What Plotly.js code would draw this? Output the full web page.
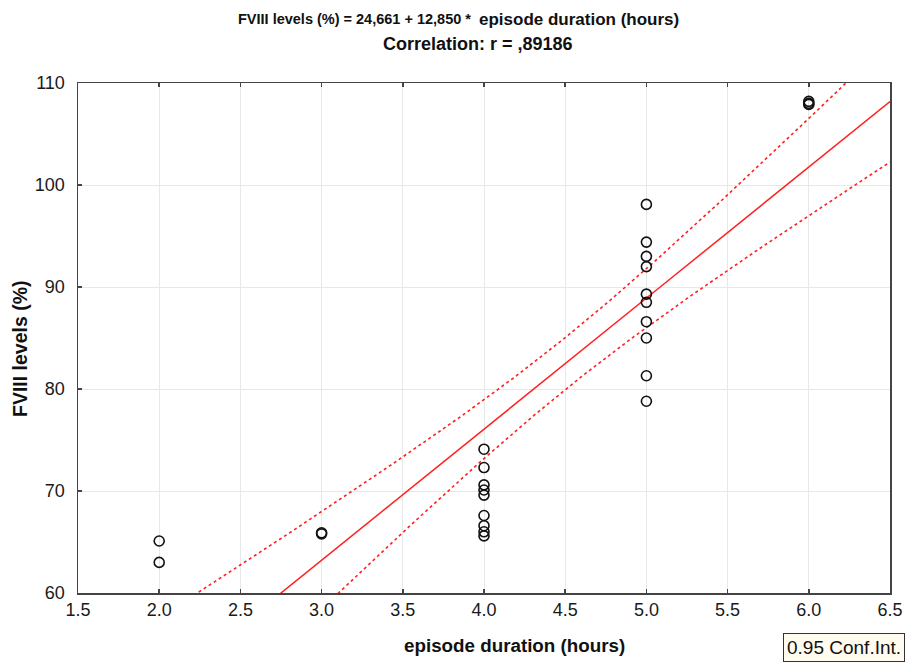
<!DOCTYPE html>
<html>
<head>
<meta charset="utf-8">
<script src="https://cdn.plot.ly/plotly-3.0.1.min.js"></script>
<style>html,body{margin:0;padding:0;background:#fff;}#chart{width:907px;height:666px;}</style>
</head>
<body>
<div id="chart"></div>
<script>
// Observed points: episode duration (hours) and FVIII levels (%)
const durationHours = [2, 2, 3, 3,
  4, 4, 4, 4, 4, 4, 4, 4, 4,
  5, 5, 5, 5, 5, 5, 5, 5, 5, 5,
  6, 6, 6];
const fviiiLevels = [65.1, 63.0, 65.9, 65.8,
  74.1, 72.3, 70.6, 70.1, 69.6, 67.6, 66.6, 66.0, 65.6,
  98.1, 94.4, 93.0, 92.0, 89.3, 88.5, 86.6, 85.0, 81.3, 78.8,
  108.2, 108.0, 107.9];

// Regression reported in the title
const intercept = 24.661;
const slope = 12.850;

// Confidence-band parameters (read from the drawn 0.95 bands)
const ciMeanX = 4.5;
const ciN = 26;
const ciSxx = 23.5;
const residSE = 6.3;
const tCrit = 2.064;

const xRange = [1.5, 6.5];
const yRange = [60, 110];

const titleLine1a = 'FVIII levels (%) = 24,661 + 12,850 *';
const titleLine1b = 'episode duration (hours)';
const titleLine2 = 'Correlation: r = ,89186';

const lineX = [];
for (let i = 0; i <= 200; i++) lineX.push(xRange[0] + (xRange[1] - xRange[0]) * i / 200);
const fitY = lineX.map(x => intercept + slope * x);
const halfW = lineX.map(x => tCrit * residSE * Math.sqrt(1 / ciN + (x - ciMeanX) ** 2 / ciSxx));
const upperY = fitY.map((y, i) => y + halfW[i]);
const lowerY = fitY.map((y, i) => y - halfW[i]);

const red = '#ff2020';
const traces = [
  {x: lineX, y: upperY, mode: 'lines', line: {color: red, width: 1.6, dash: 'dot'}, hoverinfo: 'skip'},
  {x: lineX, y: lowerY, mode: 'lines', line: {color: red, width: 1.6, dash: 'dot'}, hoverinfo: 'skip'},
  {x: lineX, y: fitY, mode: 'lines', line: {color: red, width: 1.5}, hoverinfo: 'skip'},
  {x: durationHours, y: fviiiLevels, mode: 'markers', cliponaxis: false,
   marker: {symbol: 'circle-open', size: 10, color: '#111', line: {width: 1.6, color: '#111'}}}
];

const W = 907, H = 666, L = 78, R = 17, T = 83, B = 73;
const pw = W - L - R, ph = H - T - B;
const px = v => (v - L) / pw;
const py = v => (H - B - v) / ph;

const fam = 'Liberation Sans, Arial, sans-serif';

const layout = {
  width: W, height: H,
  margin: {l: L, r: R, t: T, b: B, pad: 0},
  paper_bgcolor: '#fff', plot_bgcolor: '#fff',
  showlegend: false,
  font: {family: fam, color: '#1a1a1a'},
  xaxis: {
    range: xRange, dtick: 0.5, tick0: 1.5, tickformat: '.1f',
    showgrid: true, gridcolor: '#e8e8e8', gridwidth: 1,
    zeroline: false, showline: true, linecolor: '#444', linewidth: 1.5, mirror: 'ticks',
    ticks: 'inside', ticklen: 4, tickcolor: '#444', tickwidth: 1.5,
    tickfont: {size: 18, color: '#1a1a1a'}
  },
  yaxis: {
    range: yRange, dtick: 10, tick0: 60,
    showgrid: true, gridcolor: '#e8e8e8', gridwidth: 1,
    zeroline: false, showline: true, linecolor: '#444', linewidth: 1.5, mirror: true,
    ticks: 'inside', ticklen: 4, tickcolor: '#444', tickwidth: 1.5,
    tickfont: {size: 18, color: '#1a1a1a'}, ticklabelstandoff: 8
  },
  annotations: [
    {text: '<b>' + titleLine1a + '</b>', xref: 'paper', yref: 'paper',
     x: px(473), y: py(19), xanchor: 'right', yanchor: 'middle', showarrow: false,
     font: {family: fam, size: 14.5, color: '#111'}},
    {text: '<b>' + titleLine1b + '</b>', xref: 'paper', yref: 'paper',
     x: px(477), y: py(19), xanchor: 'left', yanchor: 'middle', showarrow: false,
     font: {family: fam, size: 17, color: '#111'}},
    {text: '<b>' + titleLine2 + '</b>', xref: 'paper', yref: 'paper',
     x: px(478), y: py(44), xanchor: 'center', yanchor: 'middle', showarrow: false,
     font: {family: fam, size: 18, color: '#111'}},
    {text: '<b>episode duration (hours)</b>', xref: 'paper', yref: 'paper',
     x: px(514), y: py(645), xanchor: 'center', yanchor: 'middle', showarrow: false,
     font: {size: 18.8, color: '#111'}},
    {text: '<b>FVIII levels (%)</b>', xref: 'paper', yref: 'paper', textangle: -90,
     x: px(20), y: py(349), xanchor: 'center', yanchor: 'middle', showarrow: false,
     font: {size: 19.5, color: '#111'}},
    {text: '0.95 Conf.Int.', xref: 'paper', yref: 'paper',
     x: px(905), y: py(647), xanchor: 'right', yanchor: 'middle', showarrow: false,
     font: {size: 19, color: '#111'}, bgcolor: '#fffbef', bordercolor: '#333', borderwidth: 1, borderpad: 3}
  ]
};

Plotly.newPlot('chart', traces, layout, {displayModeBar: false, staticPlot: true});
</script>
</body>
</html>
